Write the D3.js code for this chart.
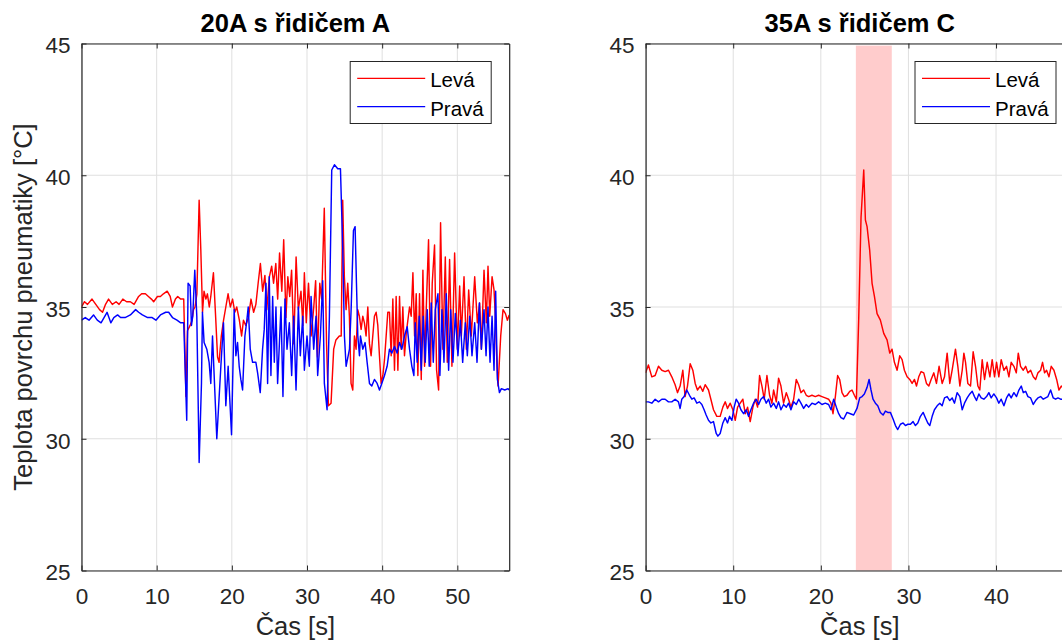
<!DOCTYPE html>
<html><head><meta charset="utf-8">
<script src="https://cdn.jsdelivr.net/npm/d3@7"></script>
<style>
html,body{margin:0;padding:0;background:#fff;overflow:hidden}
svg{display:block;font-family:"Liberation Sans",Arial,Helvetica,sans-serif}
</style></head><body>
<svg id="chart" width="1062" height="644"></svg>
<script>
const titles = ["20A s řidičem A", "35A s řidičem C"];
const seriesNames = ["Levá", "Pravá"];
const seriesColors = ["#ff0000", "#0000ff"];
const yTicks = [25, 30, 35, 40, 45];
const xTicksA = [0, 10, 20, 30, 40, 50];
const xTicksC = [0, 10, 20, 30, 40];
const xDomainA = [0, 56.9];
const xDomainC = [0, 48.9];
const yDomain = [25, 45];
const xLabel = "Čas [s]";
const yLabel = "Teplota povrchu pneumatiky [°C]";
const shadeC = [24.0, 28.1, 25, 44.92];

const levaA = [[0,35.0],[0.4,35.2],[0.8,35.1],[1.4,35.3],[1.9,35.1],[2.4,34.9],[2.8,34.8],[3.2,35.1],[3.6,35.3],[4.1,35.1],[4.6,35.2],[5.0,35.1],[5.5,35.3],[6.0,35.2],[6.5,35.2],[7.0,35.1],[7.6,35.4],[8.0,35.5],[8.5,35.5],[8.9,35.4],[9.3,35.3],[9.6,35.2],[10.1,35.4],[10.5,35.4],[10.9,35.5],[11.4,35.6],[11.8,35.4],[12.1,35.0],[12.5,35.3],[12.8,35.4],[13.2,35.3],[13.6,35.3],
[13.9,31.6],[14.1,34.1],[14.45,34.3],[14.7,34.5],[14.9,34.9],[15.1,35.0],[15.35,35.5],[15.65,39.05],[15.87,37.2],[16.1,34.8],[16.3,35.6],[16.55,35.3],[16.75,35.5],[17.0,35.0],[17.2,35.4],[17.55,36.3],[17.85,34.6],[18.1,33.1],[18.3,32.9],[18.6,33.9],[18.9,34.5],[19.2,35.0],[19.5,35.5],[19.8,35.0],[20.1,35.3],[20.4,34.8],[20.65,35.0],[21.0,34.5],[21.3,33.9],[21.55,34.5],[21.85,34.3],[22.2,34.6],[22.55,35.3],[22.9,34.8],[23.2,35.1],[23.5,35.9],[23.8,36.65],[24.1,35.6],[24.4,36.2],[24.65,34.9],[25.0,36.15],[25.3,36.55],[25.55,35.9],[25.85,36.65],[26.1,35.3],[26.35,37.05],[26.65,35.6],[26.9,37.55],[27.2,34.6],[27.45,36.15],[27.7,35.4],[27.95,36.4],[28.25,33.6],[28.55,36.9],[28.85,34.9],[29.2,35.6],[29.45,34.3],[29.65,36.3],[29.9,34.4],[30.2,35.9],[30.55,33.9],[30.9,35.0],[31.15,36.0],[31.4,33.1],[31.7,35.9],[31.95,35.3],[32.3,38.75],[32.6,33.6],[32.85,31.25],[33.2,31.35],[33.55,33.4],[33.85,33.75],[34.3,33.9],[34.55,33.9],[34.75,39.05],[34.97,36.15],[35.2,34.9],[35.42,35.9],[35.64,34.65],[35.86,32.1],[36.09,31.85],[36.31,33.9],[36.53,33.4],[36.75,34.9],[36.97,34.65],[37.2,34.15],[37.42,34.65],[37.64,34.4],[37.86,33.9],[38.09,35.0],[38.31,33.6],[38.53,33.15],[38.75,33.9],[38.97,34.65],[39.2,34.8],[39.42,34.3],[39.64,33.15],[39.86,32.1],[40.09,32.4],[40.31,33.0],[40.53,33.9],[40.75,34.8],[40.97,34.8],[41.2,33.15],[41.42,35.3],[41.64,32.6],[41.86,35.4],[42.09,32.6],[42.31,35.4],[42.53,33.4],[42.75,35.0],[42.97,33.15],[43.2,34.0],[43.64,35.0],[43.86,34.65],[44.09,36.3],[44.31,33.9],[44.53,35.5],[44.75,32.4],[44.97,35.5],[45.2,32.25],[45.42,36.4],[45.64,32.75],[45.86,34.9],[46.17,37.55],[46.44,32.75],[46.66,35.9],[46.97,37.35],[47.24,32.6],[47.51,31.85],[47.77,38.2],[48.08,33.4],[48.4,36.9],[48.66,32.9],[48.97,36.8],[49.28,32.75],[49.64,37.05],[50.0,33.4],[50.31,35.8],[50.53,33.9],[50.89,36.15],[51.2,33.4],[51.51,35.65],[51.86,33.9],[52.31,36.15],[52.66,34.4],[52.97,35.15],[53.2,33.4],[53.55,36.4],[53.86,34.4],[54.08,36.55],[54.31,34.65],[54.62,36.15],[54.88,35.65],[55.06,34.65],[55.28,32.75],[55.42,32.0],[55.77,33.9],[56.08,34.9],[56.4,34.75],[56.66,34.5],[56.9,34.7]];

const pravaA = [[0,34.5],[0.5,34.6],[1.0,34.5],[1.6,34.7],[2.1,34.5],[2.6,34.4],[3.0,34.6],[3.4,34.8],[3.9,34.4],[4.3,34.6],[4.8,34.7],[5.2,34.6],[5.8,34.6],[6.5,34.7],[7.2,34.9],[7.6,34.8],[8.1,34.7],[8.8,34.6],[9.4,34.6],[9.9,34.5],[10.5,34.7],[11.2,34.8],[11.6,34.8],[12.1,34.6],[12.7,34.5],[13.2,34.4],[13.6,34.4],
[14.0,30.7],[14.18,35.9],[14.45,35.8],[14.63,34.3],[14.8,34.65],[15.07,36.4],[15.34,34.65],[15.65,29.1],[15.96,32.1],[16.09,34.8],[16.31,33.65],[16.67,33.4],[16.98,32.9],[17.2,32.1],[17.43,33.9],[18.0,30.0],[18.54,32.75],[18.89,34.4],[19.2,31.25],[19.51,32.75],[19.96,30.15],[20.31,34.9],[20.54,33.15],[20.76,33.65],[20.98,32.75],[21.2,32.25],[21.43,31.85],[21.74,33.9],[22.0,34.5],[22.18,35.0],[22.45,33.4],[22.76,32.9],[23.2,32.9],[23.43,32.5],[23.78,31.75],[24.09,33.4],[24.31,34.15],[24.54,35.9],[24.76,32.1],[24.98,36.15],[25.2,32.4],[25.43,35.4],[25.65,32.9],[25.87,35.0],[26.09,32.1],[26.31,33.5],[26.54,35.0],[26.8,31.6],[27.07,35.3],[27.34,33.4],[27.65,34.4],[27.96,32.4],[28.23,34.65],[28.54,31.85],[28.85,35.0],[29.11,33.15],[29.43,34.65],[29.65,32.6],[30.0,33.9],[30.31,32.75],[30.54,35.4],[30.89,33.4],[31.2,34.65],[31.42,32.4],[31.78,33.9],[32.09,36.0],[32.31,32.1],[32.67,31.1],[32.98,34.65],[33.29,40.2],[33.65,40.4],[34.09,40.25],[34.45,40.25],[34.76,37.15],[34.98,33.9],[35.2,32.75],[35.65,33.4],[35.87,34.9],[36.18,37.9],[36.4,38.05],[36.58,35.9],[36.76,33.9],[36.98,33.15],[37.11,33.9],[37.42,33.4],[37.73,33.65],[38.0,32.9],[38.31,32.1],[38.62,32.0],[38.97,32.25],[39.33,32.1],[39.64,31.85],[39.95,32.1],[40.31,32.4],[40.66,32.75],[40.97,33.4],[41.28,33.25],[41.64,33.5],[42.0,33.25],[42.31,33.65],[42.62,33.4],[42.97,33.9],[43.33,34.25],[43.64,33.4],[43.95,32.75],[44.22,32.4],[44.4,34.4],[44.66,32.9],[44.93,34.65],[45.2,32.6],[45.46,34.65],[45.73,32.9],[46.0,34.9],[46.26,32.75],[46.53,35.15],[46.8,32.9],[47.06,34.9],[47.42,35.5],[47.68,32.4],[47.95,34.9],[48.22,32.9],[48.53,35.5],[48.84,32.6],[49.11,34.9],[49.42,32.9],[49.73,34.75],[50.08,33.15],[50.4,34.5],[50.71,32.9],[51.06,34.4],[51.33,33.15],[51.64,34.65],[51.95,33.15],[52.31,34.4],[52.62,32.9],[52.93,35.15],[53.2,33.4],[53.55,34.9],[53.82,33.15],[54.08,35.0],[54.35,32.9],[54.62,34.65],[54.88,32.6],[55.1,35.6],[55.33,32.25],[55.6,31.75],[55.86,31.9],[56.31,31.85],[56.75,31.9],[56.9,31.85]];

const levaC = [[0,32.5],[0.32,32.8],[0.71,32.35],[1.09,32.4],[1.47,32.75],[1.85,32.6],[2.23,32.55],[2.61,32.6],[2.99,32.35],[3.37,32.05],[3.64,31.75],[3.94,32.0],[4.25,32.6],[4.51,31.6],[4.78,32.0],[5.09,32.85],[5.39,32.6],[5.66,32.1],[5.92,31.85],[6.23,32.0],[6.53,31.8],[6.8,32.05],[7.18,31.85],[7.45,31.5],[7.75,31.1],[8.13,30.85],[8.51,30.85],[8.82,31.2],[9.09,31.4],[9.35,31.15],[9.66,31.35],[9.96,31.1],[10.23,30.7],[10.5,31.2],[10.8,31.35],[11.1,31.5],[11.37,30.95],[11.64,31.2],[11.94,30.65],[12.25,31.2],[12.51,31.5],[12.78,31.2],[13.01,32.4],[13.28,32.0],[13.54,31.5],[13.85,32.4],[14.15,31.65],[14.42,31.35],[14.61,31.85],[14.92,31.4],[15.18,32.3],[15.45,32.0],[15.75,31.35],[16.06,31.75],[16.32,31.5],[16.59,31.2],[16.9,31.5],[17.2,32.25],[17.47,32.05],[17.73,31.75],[18.04,31.85],[18.34,31.65],[18.61,31.6],[18.99,31.65],[19.37,31.6],[19.75,31.65],[20.13,31.6],[20.51,31.55],[20.89,31.5],[21.16,31.35],[21.39,30.95],[21.66,31.6],[21.92,32.4],[22.15,32.25],[22.42,31.75],[22.68,31.6],[22.99,31.65],[23.3,31.8],[23.56,31.85],[23.83,31.65],[24.06,31.5],[24.33,34.6],[24.59,38.4],[24.9,40.2],[25.09,38.3],[25.28,38.05],[25.58,37.15],[25.85,35.9],[26.12,35.4],[26.42,34.75],[26.8,34.5],[27.18,34.0],[27.56,33.75],[27.87,33.25],[28.13,33.4],[28.4,32.9],[28.71,32.6],[29.01,33.15],[29.28,33.0],[29.54,32.6],[29.85,32.35],[30.15,32.25],[30.42,32.1],[30.69,32.25],[30.92,32.0],[31.18,32.35],[31.45,32.55],[31.75,32.5],[32.06,32.1],[32.33,32.0],[32.59,32.25],[32.9,32.5],[33.2,32.1],[33.5,32.75],[33.85,32.1],[34.12,32.35],[34.42,33.25],[34.72,32.1],[34.99,32.6],[35.37,33.4],[35.64,32.75],[35.87,32.0],[36.14,32.6],[36.33,33.25],[36.52,32.9],[36.78,32.1],[37.09,32.0],[37.39,33.3],[37.66,32.75],[37.93,32.0],[38.15,31.85],[38.42,33.0],[38.69,32.25],[38.99,32.9],[39.3,32.35],[39.56,33.0],[39.83,32.35],[40.06,32.9],[40.32,32.35],[40.59,33.0],[40.9,32.6],[41.2,32.75],[41.47,32.35],[41.73,32.9],[42.04,32.75],[42.31,32.5],[42.54,33.25],[42.8,32.75],[43.11,32.6],[43.38,32.75],[43.64,32.5],[43.95,32.6],[44.25,32.35],[44.52,32.25],[44.78,32.5],[45.09,32.6],[45.31,32.9],[45.54,32.5],[45.77,32.6],[46.04,32.35],[46.3,32.75],[46.61,32.6],[46.92,32.25],[47.18,31.85],[47.45,32.0],[47.8,31.9],[48.3,32.0],[48.9,31.8]];

const pravaC = [[0,31.4],[0.32,31.4],[0.71,31.35],[1.09,31.5],[1.47,31.4],[1.85,31.5],[2.23,31.5],[2.61,31.4],[2.99,31.4],[3.37,31.5],[3.75,31.4],[3.94,31.15],[4.13,31.5],[4.4,31.6],[4.7,31.85],[5.01,31.65],[5.28,31.5],[5.54,31.55],[5.85,31.35],[6.15,31.4],[6.42,31.3],[6.68,31.1],[6.91,30.9],[7.18,30.7],[7.45,30.6],[7.75,30.65],[8.06,30.2],[8.25,30.1],[8.51,30.2],[8.82,30.6],[9.09,30.8],[9.35,30.6],[9.58,30.85],[9.85,30.7],[10.11,31.2],[10.34,31.5],[10.61,31.35],[10.88,31.1],[11.18,30.95],[11.49,31.1],[11.75,30.85],[12.02,31.1],[12.32,31.35],[12.63,31.5],[12.9,31.3],[13.16,31.5],[13.47,31.6],[13.77,31.35],[14.04,31.5],[14.3,31.2],[14.61,31.35],[14.92,31.15],[15.18,31.4],[15.45,31.1],[15.75,31.3],[16.06,31.2],[16.32,31.35],[16.59,31.1],[16.9,31.4],[17.2,31.3],[17.47,31.5],[17.73,31.35],[18.04,31.15],[18.34,31.3],[18.61,31.2],[18.99,31.35],[19.37,31.3],[19.75,31.4],[20.13,31.3],[20.51,31.35],[20.89,31.3],[21.16,31.1],[21.47,31.5],[21.77,31.2],[22.04,30.95],[22.3,30.8],[22.61,30.75],[22.99,31.0],[23.37,30.95],[23.75,30.9],[24.13,31.15],[24.44,31.55],[24.71,31.6],[24.97,31.7],[25.28,31.95],[25.51,32.25],[25.73,31.85],[25.96,31.5],[26.23,31.35],[26.5,31.25],[26.8,31.0],[27.11,30.9],[27.37,31.05],[27.64,31.0],[27.94,31.0],[28.25,30.75],[28.52,30.5],[28.78,30.35],[29.09,30.55],[29.39,30.6],[29.66,30.5],[29.93,30.55],[30.23,30.55],[30.53,30.65],[30.8,30.5],[31.07,30.6],[31.37,30.85],[31.68,31.0],[31.94,30.8],[32.21,30.6],[32.44,30.5],[32.71,30.85],[32.97,31.1],[33.28,31.25],[33.58,31.35],[33.85,31.25],[34.12,31.55],[34.42,31.6],[34.72,31.45],[34.99,31.55],[35.26,31.35],[35.56,31.75],[35.87,31.6],[36.14,31.1],[36.4,31.35],[36.71,31.55],[37.01,31.7],[37.28,31.8],[37.54,31.6],[37.77,31.45],[38.04,31.7],[38.31,31.55],[38.61,31.5],[38.92,31.6],[39.18,31.75],[39.45,31.55],[39.75,31.7],[40.06,31.55],[40.32,31.35],[40.59,31.5],[40.9,31.25],[41.2,31.55],[41.47,31.7],[41.73,31.55],[42.04,31.75],[42.34,31.6],[42.61,31.85],[42.88,32.0],[43.11,31.75],[43.38,31.8],[43.64,31.6],[43.95,31.55],[44.25,31.3],[44.52,31.45],[44.78,31.55],[45.09,31.6],[45.39,31.5],[45.66,31.55],[45.92,31.6],[46.23,31.85],[46.53,31.55],[46.8,31.5],[47.07,31.55],[47.37,31.5],[47.8,31.5],[48.3,31.45],[48.9,31.5]];

const panels = [
  {title: titles[0], series: [levaA, pravaA], xDomain: xDomainA, xTicks: xTicksA, left: 81.5, right: 509.2, showYLabel: true, shade: null},
  {title: titles[1], series: [levaC, pravaC], xDomain: xDomainC, xTicks: xTicksC, left: 645.6, right: 1074, showYLabel: false, shade: shadeC}
];
const plotTop = 43.5, plotBottom = 570.5;
const axisColor = "#262626", gridColor = "#dfdfdf";
const tickFont = 22.5, labelFont = 25.5, legendFont = 20.5;

const svg = d3.select("#chart");
svg.append("rect").attr("width", 1062).attr("height", 644).attr("fill", "#fff");

panels.forEach((p, i) => {
  const x = d3.scaleLinear().domain(p.xDomain).range([p.left, p.right]);
  const y = d3.scaleLinear().domain(yDomain).range([plotBottom, plotTop]);
  const g = svg.append("g");

  const clipId = "clip" + i;
  svg.append("clipPath").attr("id", clipId).append("rect")
    .attr("x", p.left).attr("y", plotTop).attr("width", p.right - p.left).attr("height", plotBottom - plotTop);

  g.append("g").selectAll("line").data(p.xTicks).join("line")
    .attr("x1", d => x(d)).attr("x2", d => x(d)).attr("y1", plotTop).attr("y2", plotBottom)
    .attr("stroke", gridColor).attr("stroke-width", 1);
  g.append("g").selectAll("line").data(yTicks).join("line")
    .attr("x1", p.left).attr("x2", p.right).attr("y1", d => y(d)).attr("y2", d => y(d))
    .attr("stroke", gridColor).attr("stroke-width", 1);

  if (p.shade) {
    g.append("rect")
      .attr("x", x(p.shade[0])).attr("width", x(p.shade[1]) - x(p.shade[0]))
      .attr("y", y(p.shade[3])).attr("height", y(p.shade[2]) - y(p.shade[3]))
      .attr("fill", "#ffcccc");
  }

  const line = d3.line().x(d => x(d[0])).y(d => y(d[1]));
  const lg = g.append("g").attr("clip-path", `url(#${clipId})`);
  p.series.forEach((s, k) => {
    lg.append("path").datum(s).attr("d", line)
      .attr("fill", "none").attr("stroke", seriesColors[k])
      .attr("stroke-width", 1.45).attr("stroke-linejoin", "round");
  });

  const styleAxis = sel => {
    sel.select(".domain").attr("stroke", axisColor).attr("stroke-width", 1.2);
    sel.selectAll(".tick line").attr("stroke", axisColor).attr("stroke-width", 1);
    sel.selectAll(".tick text").attr("fill", axisColor).attr("font-size", tickFont)
      .attr("font-family", "Liberation Sans, Arial, sans-serif");
  };
  const bx = g.append("g").attr("transform", `translate(0,${plotBottom})`)
    .call(d3.axisBottom(x).tickValues(p.xTicks).tickSizeInner(-5).tickSizeOuter(0).tickPadding(17.5));
  styleAxis(bx);
  const tx = g.append("g").attr("transform", `translate(0,${plotTop})`)
    .call(d3.axisTop(x).tickValues(p.xTicks).tickSizeInner(-5).tickSizeOuter(0).tickFormat(""));
  styleAxis(tx);
  const ly = g.append("g").attr("transform", `translate(${p.left},0)`)
    .call(d3.axisLeft(y).tickValues(yTicks).tickSizeInner(-5).tickSizeOuter(0).tickPadding(11));
  styleAxis(ly);
  ly.selectAll(".tick text").attr("dy", "0.42em");
  const ry = g.append("g").attr("transform", `translate(${p.right},0)`)
    .call(d3.axisRight(y).tickValues(yTicks).tickSizeInner(-5).tickSizeOuter(0).tickFormat(""));
  styleAxis(ry);

  g.append("text").attr("x", (p.left + p.right) / 2).attr("y", 32)
    .attr("text-anchor", "middle").attr("font-weight", "bold")
    .attr("font-size", labelFont).attr("fill", "#000").text(p.title);

  g.append("text").attr("x", (p.left + p.right) / 2).attr("y", 635)
    .attr("text-anchor", "middle").attr("font-size", labelFont)
    .attr("fill", axisColor).text(xLabel);

  if (p.showYLabel) {
    g.append("text").attr("transform", `translate(32,${(plotTop + plotBottom) / 2}) rotate(-90)`)
      .attr("text-anchor", "middle").attr("font-size", labelFont)
      .attr("fill", axisColor).text(yLabel);
  }

  const lw = 141, lh = 62;
  const lx = p.right - 18 - lw, lyy = plotTop + 18;
  const leg = g.append("g").attr("transform", `translate(${lx},${lyy})`);
  leg.append("rect").attr("width", lw).attr("height", lh)
    .attr("fill", "#fff").attr("stroke", axisColor).attr("stroke-width", 1);
  seriesNames.forEach((n, k) => {
    const yy = 16.8 + k * 28.4;
    leg.append("line").attr("x1", 7).attr("x2", 75).attr("y1", yy).attr("y2", yy)
      .attr("stroke", seriesColors[k]).attr("stroke-width", 1.3);
    leg.append("text").attr("x", 80).attr("y", yy + 8.8)
      .attr("font-size", legendFont).attr("fill", "#000").text(n);
  });
});
</script>
</body></html>
